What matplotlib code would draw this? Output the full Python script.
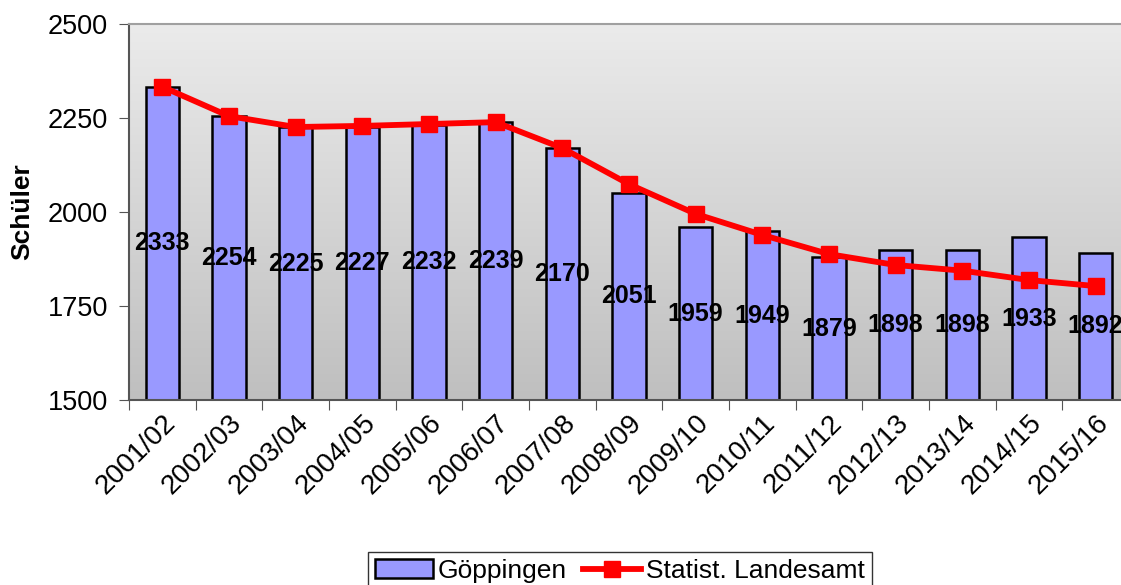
import numpy as np
import matplotlib.pyplot as plt
from matplotlib.colors import LinearSegmentedColormap

plt.rcParams['font.family'] = ['Liberation Sans', 'DejaVu Sans']

years = ["2001/02", "2002/03", "2003/04", "2004/05", "2005/06", "2006/07",
         "2007/08", "2008/09", "2009/10", "2010/11", "2011/12", "2012/13",
         "2013/14", "2014/15", "2015/16"]
goeppingen = [2333, 2254, 2225, 2227, 2232, 2239, 2170, 2051, 1959, 1949,
              1879, 1898, 1898, 1933, 1892]
landesamt = [2333, 2255, 2226, 2229, 2234, 2239, 2170, 2074, 1995, 1939,
             1888, 1859, 1844, 1819, 1803]


def main():
    fig = plt.figure(figsize=(11.21, 5.85), dpi=100)
    # plot area runs slightly past the right edge, like the original
    ax = fig.add_axes([129 / 1121, 1 - 400 / 585, 1000 / 1121, 376 / 585])

    x = np.arange(len(years))
    ax.set_xlim(-0.5, len(years) - 0.5)
    ax.set_ylim(1500, 2500)

    # gray gradient background
    cmap = LinearSegmentedColormap.from_list("bg", ["#ebebeb", "#bfbfbf"])
    grad = np.linspace(0, 1, 256).reshape(-1, 1)
    ax.imshow(grad, cmap=cmap, aspect="auto", zorder=0,
              extent=[-0.5, len(years) - 0.5, 1500, 2500])

    bars = ax.bar(x, np.array(goeppingen) - 1500, bottom=1500, width=0.5,
                  color="#9999ff", edgecolor="black", linewidth=1.8,
                  zorder=2)
    line, = ax.plot(x, landesamt, color="red", linewidth=4.2, marker="s",
                    markersize=11, zorder=3)

    for xi, v in zip(x, goeppingen):
        ax.text(xi, (1500 + v) / 2, str(v), ha="center", va="center",
                fontsize=18, fontweight="bold", zorder=4)

    ax.set_yticks([1500, 1750, 2000, 2250, 2500])
    ax.tick_params(axis="y", labelsize=19.5, length=7, pad=8,
                   color="#555555")
    ax.set_xticks(np.arange(len(years) + 1) - 0.5, minor=False)
    ax.set_xticklabels([])
    ax.set_xticks(x, minor=True)
    ax.set_xticklabels(years, minor=True, rotation=45, ha="right",
                       rotation_mode="anchor", fontsize=20)
    ax.tick_params(axis="x", which="major", length=7, color="#555555")
    ax.tick_params(axis="x", which="minor", length=0, pad=7)

    for side in ["left", "bottom"]:
        ax.spines[side].set_color("#555555")
        ax.spines[side].set_linewidth(1.5)
    ax.spines["top"].set_color("#a0a0a0")
    ax.spines["top"].set_linewidth(1.5)
    ax.spines["right"].set_visible(False)

    ax.set_ylabel("Schüler", fontsize=19, fontweight="bold", labelpad=10)

    leg = fig.legend([bars, line], ["Göppingen", "Statist. Landesamt"],
                     loc="lower center", bbox_to_anchor=(0.553, -0.03),
                     ncol=2, fontsize=19, frameon=True, fancybox=False,
                     edgecolor="black", handlelength=2.2, handletextpad=0.2,
                     columnspacing=0.6, borderpad=0.25)
    leg.get_frame().set_linewidth(1.0)

    fig.savefig("out.png", dpi=100)


if __name__ == '__main__':
    main()
